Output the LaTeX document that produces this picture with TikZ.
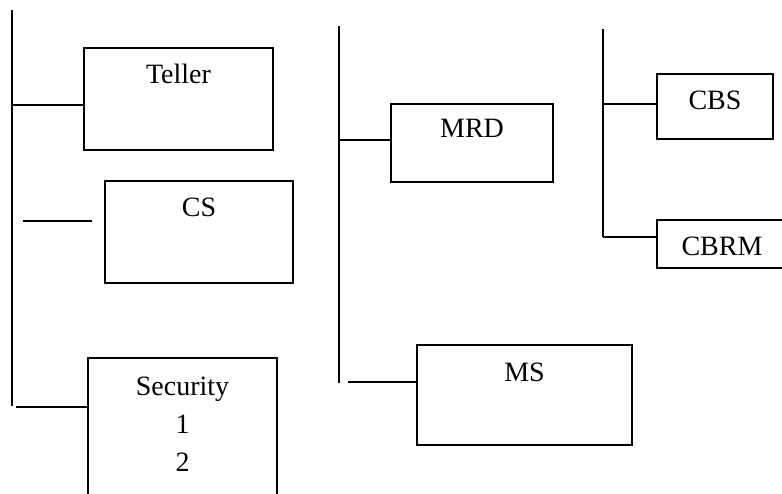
\documentclass[tikz,border=0pt]{standalone}
\usepackage{fontspec}
\setmainfont{Liberation Serif}
\usepackage{tikz}
\usetikzlibrary{positioning}

\begin{document}
\begin{tikzpicture}[
        x=1pt,y=-1pt,
        box/.style={draw,line width=2.4pt,inner sep=0pt},
        txt/.style={anchor=base,align=center,font=\fontsize{28}{38}\selectfont},
        spine/.style={line width=2.4pt},
        link/.style={line width=2.2pt}
      ]
        \useasboundingbox (0,0) rectangle (782,493);
        \clip (0,0) rectangle (782,493);
        % left group
        \coordinate (l0) at (12,10);
        \coordinate (l1) at (12,406);
        \node[box,minimum width=189pt,minimum height=102pt] (teller) at (178.5,99) {};
        \node[box,minimum width=188pt,minimum height=102pt] (cs) at (199,232) {};
        \node[box,minimum width=189pt,minimum height=170pt] (sec) at (182.5,443) {};
        \node[txt] at ([yshift=-37pt]teller.north) {Teller};
        \node[txt] at ([yshift=-37pt]cs.north) {CS};
        \node[txt] at ([yshift=-115pt]sec.north) {Security\\1\\2};
        \coordinate (t0) at (12,105);
        \coordinate (c0) at (23,221);
        \coordinate (c1) at (92,221);
        \coordinate (s0) at (16,407);
        \draw[spine] (l0) -- (l1);
        \draw[link] (t0) -- (t0 -| teller.west);
        \draw[link] (c0) -- (c1);
        \draw[link] (s0) -- (s0 -| sec.west);
        % middle group
        \coordinate (m0) at (339,26);
        \coordinate (m1) at (339,383);
        \node[box,minimum width=162pt,minimum height=78pt] (mrd) at (472,143) {};
        \node[box,minimum width=215pt,minimum height=100pt] (ms) at (524.5,395) {};
        \node[txt] at ([yshift=-35pt]mrd.north) {MRD};
        \node[txt] at ([yshift=-38pt]ms.north) {MS};
        \coordinate (r0) at (339,140);
        \coordinate (q0) at (348,382);
        \draw[spine] (m0) -- (m1);
        \draw[link] (r0) -- (r0 -| mrd.west);
        \draw[link] (q0) -- (q0 -| ms.west);
        % right group
        \coordinate (k0) at (603,29);
        \coordinate (k1) at (603,237);
        \node[box,minimum width=116pt,minimum height=65pt] (cbs) at (715,106.5) {};
        \node[box,minimum width=130pt,minimum height=48pt] (cbrm) at (722,244) {};
        \node[txt] at ([yshift=-37pt]cbs.north) {CBS};
        \node[txt] at ([yshift=-37pt]cbrm.north) {CBRM};
        \coordinate (b0) at (603,104);
        \draw[spine] (k0) -- (k1);
        \draw[link] (b0) -- (b0 -| cbs.west);
        \draw[link] (k1) -- (k1 -| cbrm.west);
      \end{tikzpicture}
\end{document}
